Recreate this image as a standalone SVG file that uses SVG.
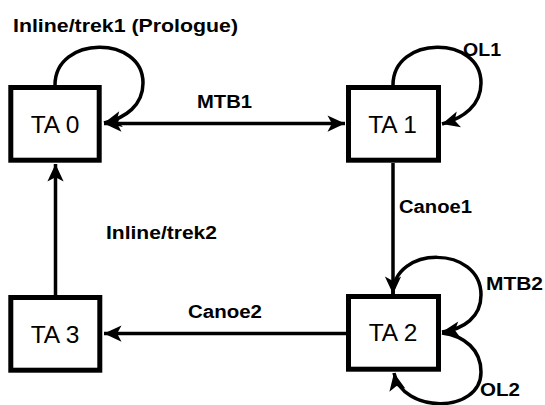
<svg xmlns="http://www.w3.org/2000/svg" width="545" height="405" viewBox="0 0 545 405">
<style>
.box{fill:#fff;stroke:#000;stroke-width:5}
.nt{font-family:"Liberation Sans",Arial,sans-serif;font-size:24.5px;fill:#000;text-anchor:middle}
.lbl{font-family:"Liberation Sans",Arial,sans-serif;font-size:18px;font-weight:bold;fill:#000}
.edge{fill:none;stroke:#000;stroke-width:3.5}
</style>
<defs>
<marker id="ah" markerUnits="userSpaceOnUse" markerWidth="20" markerHeight="20" viewBox="-15 -8 16 16" refX="0" refY="0" orient="auto-start-reverse">
<path d="M0,0 L-14,-6.5 L-10.5,0 L-14,6.5 Z" fill="#000"/>
</marker>
</defs>
<rect width="545" height="405" fill="#fff"/>
<g id="connectors">
<path class="edge" d="M104,123.5 L345,123.5" marker-start="url(#ah)" marker-end="url(#ah)"/>
<path class="edge" d="M393,163 L393,294" marker-end="url(#ah)"/>
<path class="edge" d="M346,333.5 L104,333.5" marker-end="url(#ah)"/>
<path class="edge" d="M55.5,295 L55.5,164" marker-end="url(#ah)"/>
<path class="edge" d="M55,85 C55,35 143,35 143,83 C143,105 126,118 104,123" marker-end="url(#ah)"/>
<path class="edge" d="M393,85 C393,35 481,35 481,83 C481,105 464,118 442,124" marker-end="url(#ah)"/>
<path class="edge" d="M393,294 C393,245 481,245 481,295 C481,317 464,329 442,332" marker-end="url(#ah)"/>
<path class="edge" d="M442,333 C465,336 481,350 481,372 C481,414 402,414 394,373" marker-end="url(#ah)"/>
<text class="lbl" x="13" y="31.5" textLength="225" lengthAdjust="spacingAndGlyphs">Inline/trek1 (Prologue)</text>
<text class="lbl" x="197" y="108" textLength="55" lengthAdjust="spacingAndGlyphs">MTB1</text>
<text class="lbl" x="463" y="56" textLength="38" lengthAdjust="spacingAndGlyphs">OL1</text>
<text class="lbl" x="399" y="213" textLength="73" lengthAdjust="spacingAndGlyphs">Canoe1</text>
<text class="lbl" x="106" y="239" textLength="111" lengthAdjust="spacingAndGlyphs">Inline/trek2</text>
<text class="lbl" x="188" y="318" textLength="74" lengthAdjust="spacingAndGlyphs">Canoe2</text>
<text class="lbl" x="486" y="290" textLength="57" lengthAdjust="spacingAndGlyphs">MTB2</text>
<text class="lbl" x="480" y="396" textLength="40" lengthAdjust="spacingAndGlyphs">OL2</text>
</g>
<g id="ta0">
<rect class="box" x="10.8" y="87.5" width="88.4" height="72.7"/>
<text class="nt" x="55" y="133">TA 0</text>
</g>
<g id="ta1">
<rect class="box" x="348.5" y="87.5" width="90" height="72.7"/>
<text class="nt" x="392.5" y="133">TA 1</text>
</g>
<g id="ta2">
<rect class="box" x="348.5" y="296.5" width="90" height="72.7"/>
<text class="nt" x="393" y="341">TA 2</text>
</g>
<g id="ta3">
<rect class="box" x="10.8" y="297.5" width="89" height="72.7"/>
<text class="nt" x="55" y="342.5">TA 3</text>
</g>
</svg>
